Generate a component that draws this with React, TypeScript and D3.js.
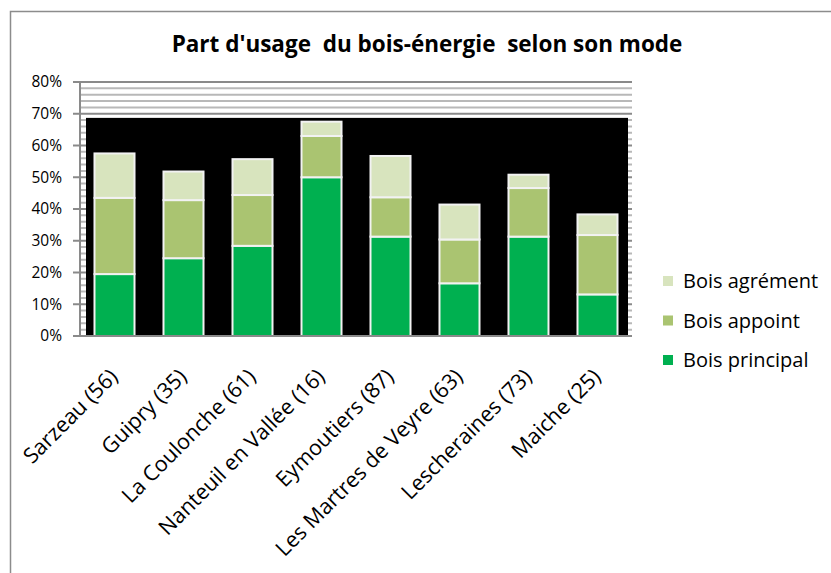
import React from "react";
import * as d3 from "d3";

const width = 831;
const height = 573;
const margin = { top: 82, right: 199, bottom: 237, left: 80 };

const categories = [
  "Sarzeau (56)",
  "Guipry (35)",
  "La Coulonche (61)",
  "Nanteuil en Vallée (16)",
  "Eymoutiers (87)",
  "Les Martres de Veyre (63)",
  "Lescheraines (73)",
  "Maiche (25)",
];

// shares in %
const principal = [19.5, 24.5, 28.4, 50.0, 31.3, 16.6, 31.3, 13.1];
const appoint = [24.0, 18.3, 16.0, 13.0, 12.4, 13.8, 15.3, 18.7];
const agrement = [14.0, 9.0, 11.3, 4.5, 13.0, 11.0, 4.2, 6.5];

const seriesNames = ["Bois principal", "Bois appoint", "Bois agrément"];
const seriesColors = ["#00B050", "#AAC471", "#D8E4BE"];

const yTicks = [0, 10, 20, 30, 40, 50, 60, 70, 80];
const minorTicks = d3.range(0, 81, 2);
// the dark backdrop behind the bars stops a bit under 70%
const backdropTop = 68.7;

const font = "'Open Sans', sans-serif";

const App = () => {
  const x = d3
    .scaleBand()
    .domain(categories)
    .range([margin.left, width - margin.right])
    .paddingInner(0.42)
    .paddingOuter(0.21);

  const y = d3
    .scaleLinear()
    .domain([0, 80])
    .range([height - margin.bottom, margin.top]);

  const rows = categories.map((c, i) => ({
    cat: c,
    principal: principal[i],
    appoint: appoint[i],
    agrement: agrement[i],
  }));
  const stack = d3.stack().keys(["principal", "appoint", "agrement"]);
  const layers = stack(rows);

  const x0 = margin.left;
  const x1 = width - margin.right;

  return (
    <svg width={width} height={height} style={{ display: "block", position: "absolute", left: 0, top: 0 }}>
      <rect x={0} y={0} width={width} height={height} fill="#fff" />
      <rect x={10.5} y={11.5} width={830} height={600} fill="none" stroke="#8c8c8c" strokeWidth={1.5} />

      <text
        x={427}
        y={52}
        textAnchor="middle"
        fontFamily={font}
        fontWeight="bold"
        fontSize={22.5}
        fill="#000"
        style={{ whiteSpace: "pre" }}
      >
        {"Part d'usage  du bois-énergie  selon son mode"}
      </text>

      {minorTicks.map((t) => (
        <line
          key={"g" + t}
          x1={x0}
          x2={x1}
          y1={y(t)}
          y2={y(t)}
          stroke={t % 10 === 0 ? "#8a8a8a" : "#b8b8b8"}
          strokeWidth={2}
        />
      ))}

      <rect
        x={x0 + 6}
        y={y(backdropTop)}
        width={x1 - x0 - 10}
        height={y(0) - y(backdropTop)}
        fill="#000"
      />

      {layers.map((layer, li) => (
        <g key={layer.key}>
          {layer.map((d, i) => (
            <rect
              key={i}
              x={x(categories[i])}
              y={y(d[1])}
              width={x.bandwidth()}
              height={y(d[0]) - y(d[1])}
              fill={seriesColors[li]}
              stroke="#f2f2f2"
              strokeWidth={2}
            />
          ))}
        </g>
      ))}

      <line x1={x0} x2={x0} y1={y(80)} y2={y(0)} stroke="#8a8a8a" strokeWidth={2} />
      <line x1={x0 - 7} x2={x1} y1={y(0)} y2={y(0)} stroke="#8a8a8a" strokeWidth={2} />
      {yTicks.map((t) => (
        <g key={"t" + t}>
          <line x1={x0 - 7} x2={x0} y1={y(t)} y2={y(t)} stroke="#8a8a8a" strokeWidth={2} />
          <text
            x={62}
            y={y(t)}
            dy="0.35em"
            textAnchor="end"
            fontFamily={font}
            fontSize={15.5}
            fill="#000"
          >
            {t + "%"}
          </text>
        </g>
      ))}

      {categories.map((c) => (
        <text
          key={c}
          transform={`translate(${x(c)! + x.bandwidth() / 2 + 4.5}, ${y(0) + 42}) rotate(-45)`}
          textAnchor="end"
          fontFamily={font}
          fontSize={21.5}
          fill="#000"
        >
          {c}
        </text>
      ))}

      {seriesNames
        .map((n, i) => ({ n, i }))
        .reverse()
        .map(({ n, i }, k) => (
          <g key={n} transform={`translate(663, ${281 + k * 39.5})`}>
            <rect x={0} y={-5} width={10} height={10} fill={seriesColors[i]} />
            <text x={20} y={0} dy="0.35em" fontFamily={font} fontSize={20} fill="#000">
              {n}
            </text>
          </g>
        ))}
    </svg>
  );
};

export default App;
